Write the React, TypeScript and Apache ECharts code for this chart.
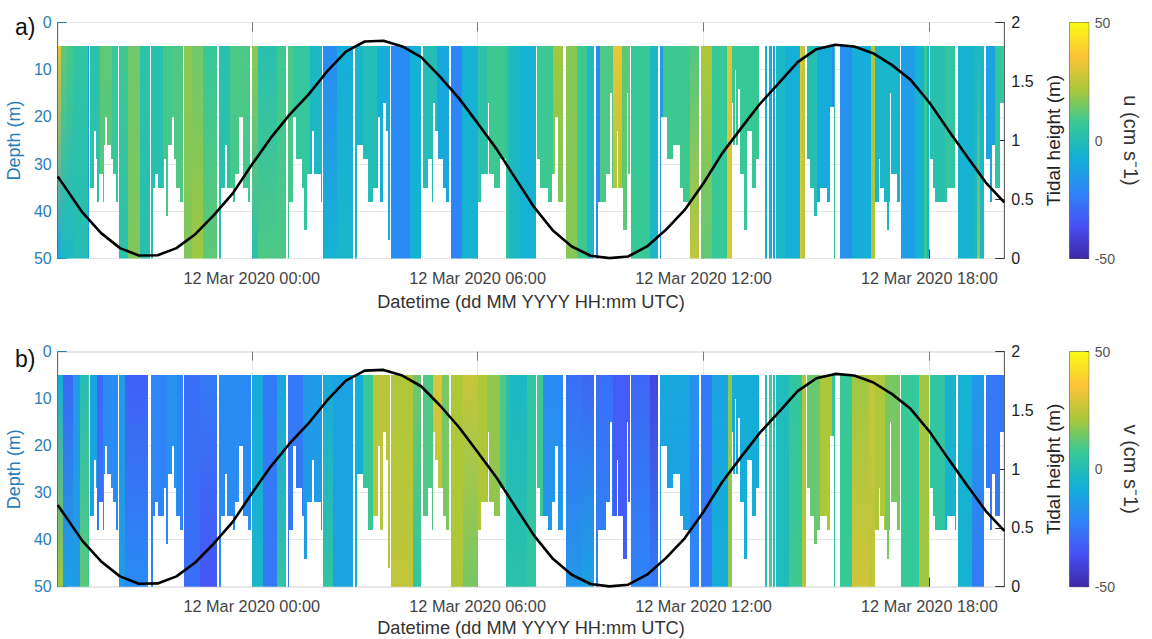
import React, { useEffect, useRef } from "react";
import * as echarts from "echarts";

// Time ticks (hours from 12 Mar 2020 00:00 UTC) and their labels
const tickHours = [0, 6, 12, 18];
const tickLabels = ["12 Mar 2020 00:00", "12 Mar 2020 06:00", "12 Mar 2020 12:00", "12 Mar 2020 18:00"];
const hourMin = -5.155;
const hourMax = 19.99;
// Ensemble numbering: ensemble 755 is midnight, about 113 ensembles an hour
const ensAtMidnight = 755;
const ensPerHour = 112.95;

// Tide (m), half hourly
const tideHours = [-5.155, -5, -4.5, -4, -3.5, -3, -2.5, -2, -1.5, -1, -0.5, 0, 0.5, 1, 1.5, 2, 2.5, 3, 3.5, 4, 4.5, 5, 5.5, 6, 6.5, 7, 7.5, 8, 8.5, 9, 9.5, 10, 10.5, 11, 11.5, 12, 12.5, 13, 13.5, 14, 14.5, 15, 15.5, 16, 16.5, 17, 17.5, 18, 18.5, 19, 19.5, 19.99];
const tideHeights = [0.695, 0.624, 0.39, 0.215, 0.088, 0.025, 0.028, 0.088, 0.206, 0.37, 0.554, 0.794, 1.02, 1.217, 1.387, 1.585, 1.754, 1.839, 1.845, 1.797, 1.706, 1.542, 1.359, 1.147, 0.929, 0.681, 0.435, 0.237, 0.102, 0.023, 0.003, 0.017, 0.102, 0.243, 0.412, 0.638, 0.893, 1.105, 1.311, 1.486, 1.664, 1.774, 1.811, 1.797, 1.74, 1.641, 1.514, 1.322, 1.09, 0.864, 0.644, 0.475];

// Deepest valid bin per ensemble run [first, last, depth m]; anything unlisted reaches 50 m
const validDepth: number[][] = [
  [268,283,35],[283,287,23],[287,292,29],[292,297,38],[297,308,32],[308,312,38],[312,316,26],[316,320,20],[320,333,26],[333,338,29],[338,348,32],[348,356,38],
  [458,464,35],[464,475,32],[475,492,35],[492,498,29],[498,505,41],[505,515,26],[515,521,20],[521,527,29],[527,540,35],[540,550,38],
  [663,675,35],[675,680,26],[680,700,35],[700,705,38],[705,718,32],[718,728,20],[728,745,35],[745,755,38],
  [868,880,38],[880,887,20],[887,905,29],[905,912,35],[912,920,44],[920,935,32],[935,941,23],[941,962,32],[962,967,38],
  [1072,1090,26],[1090,1103,29],[1103,1120,38],[1120,1135,35],[1135,1140,20],[1140,1150,38],[1150,1157,17],[1157,1165,23],[1165,1172,46],
  [1268,1285,35],[1285,1295,29],[1295,1300,38],[1300,1305,17],[1305,1315,23],[1315,1328,29],[1328,1338,35],[1338,1350,38],
  [1435,1443,38],[1443,1462,32],[1462,1468,17],[1468,1483,32],[1483,1500,35],[1500,1517,29],
  [1608,1620,29],[1620,1645,35],[1645,1655,38],[1655,1665,32],[1665,1675,20],[1675,1690,38],
  [1795,1812,38],[1812,1818,38],[1818,1830,32],[1830,1836,15],[1836,1850,35],[1850,1855,23],[1855,1870,35],[1870,1880,44],[1880,1884,15],[1884,1890,32],
  [1983,2000,20],[2000,2020,29],[2020,2040,26],[2040,2050,35],[2050,2070,38],
  [2195,2200,17],[2200,2204,26],[2204,2208,10],[2208,2214,26],[2214,2220,14],[2220,2232,32],[2232,2240,44],[2240,2255,23],[2255,2268,35],[2268,2276,29],
  [2421,2431,29],[2431,2441,35],[2441,2451,41],[2451,2461,38],[2461,2481,35],[2481,2491,38],[2491,2501,18],
  [2624,2636,38],[2636,2641,29],[2641,2651,35],[2651,2661,38],[2661,2666,44],[2666,2670,38],[2670,2674,15],[2674,2691,32],[2691,2701,38],
  [2791,2800,29],[2800,2806,35],[2806,2841,38],[2841,2866,35],[2866,2873,38],
  [2959,2971,29],[2971,2976,38],[2976,2986,26],[2986,3001,35],[3001,3013,17],
];

// Velocity runs [first ensemble, last ensemble, value at 5 m, value at 50 m] (cm/s)
const uBands: number[][] = [
  [173,183,30,-10],[183,200,12,-3],[200,220,9,-3],[220,263,5,0],[263,266,-15,-15],
  [270,300,3,3],[300,335,12,10],[335,353,7,7],
  [358,385,8,2],[385,420,14,16],[420,450,3,1],
  [453,490,2,2],[490,520,9,9],[520,548,10,10],
  [552,575,18,16],[575,610,14,20],[610,652,7,12],
  [656,690,2,2],[690,750,10,8],
  [755,775,18,2],[775,830,2,10],[830,857,8,10],
  [863,880,10,8],[880,930,6,6],[930,965,-3,-3],
  [968,1010,-20,-6],[1010,1060,-8,-4],
  [1065,1090,-4,-4],[1090,1130,0,0],[1130,1170,-8,-8],
  [1173,1230,-20,-20],[1230,1262,-7,-7],
  [1270,1310,0,0],[1310,1348,-10,-10],
  [1352,1385,-22,-22],[1385,1433,-6,-6],
  [1435,1460,3,3],[1460,1517,8,8],[1519,1526,4,4],
  [1528,1560,-3,-3],[1560,1608,-6,-6],
  [1610,1660,8,8],[1660,1690,20,15],
  [1697,1730,17,17],[1730,1760,8,8],[1760,1783,-2,-2],
  [1787,1800,-20,-20],[1800,1840,10,10],[1840,1865,33,16],[1865,1890,12,12],
  [1893,1950,7,7],[1950,1975,-3,-3],
  [1980,1990,-15,-15],[1990,2070,8,8],
  [2070,2097,10,25],[2103,2135,22,12],[2135,2180,7,7],[2180,2195,30,30],
  [2197,2276,7,7],
  [2296,2301,-8,-8],[2306,2316,-8,-8],[2318,2324,-12,-12],
  [2328,2356,-3,-3],[2356,2401,-7,-7],[2401,2406,30,30],[2406,2416,25,25],
  [2421,2451,1,1],[2451,2496,-9,-9],[2496,2501,-20,-20],[2501,2506,5,5],
  [2521,2556,-18,-18],[2556,2614,-8,-8],[2614,2624,22,22],
  [2624,2701,-4,-4],
  [2703,2746,-14,-14],[2746,2771,-5,-5],[2771,2781,7,7],[2781,2786,-5,-5],
  [2791,2836,2,2],[2836,2866,5,5],
  [2873,2921,-6,-6],[2921,2931,-3,-3],[2931,2941,-3,18],[2941,2953,-3,-3],
  [2959,2986,-12,-12],[2986,3013,6,4],
];
const vBands: number[][] = [
  [173,190,-8,20],[190,220,-30,-12],[220,240,-15,-15],[240,263,0,12],[263,267,8,8],
  [270,290,-12,-12],[290,310,-30,-25],[310,353,-20,-20],
  [358,375,-15,-15],[375,445,-32,-20],
  [453,500,-22,-22],[500,530,-18,-18],[530,548,-22,-22],
  [552,600,-28,-28],[600,652,-25,-35],
  [656,752,-20,-20],
  [755,790,-10,-4],[790,830,-25,-25],[830,857,-12,5],
  [863,910,-25,-25],[910,965,-15,-15],
  [968,1000,-10,5],[1000,1060,-12,-12],
  [1065,1090,-8,-8],[1090,1120,7,7],[1120,1170,24,24],
  [1173,1240,22,25],[1240,1262,14,5],
  [1270,1300,10,10],[1300,1325,30,20],[1325,1348,15,15],
  [1352,1390,22,22],[1390,1433,26,15],
  [1435,1460,22,22],[1460,1500,18,18],[1500,1517,10,10],[1519,1526,2,2],
  [1528,1580,-3,3],[1580,1608,5,5],
  [1610,1630,8,8],[1630,1690,-20,-14],
  [1697,1745,-28,-16],[1745,1783,-30,-12],
  [1787,1840,-28,-22],[1840,1890,-33,-33],
  [1893,1950,-30,-22],[1950,1975,-40,-25],
  [1980,2070,-10,-15],[2070,2097,-18,-22],
  [2103,2135,-25,-25],[2135,2185,-12,-8],[2185,2195,18,18],
  [2197,2276,-8,-8],
  [2296,2301,0,0],[2306,2316,10,10],[2318,2324,0,0],
  [2328,2366,-1,-1],[2366,2406,5,8],[2406,2418,22,22],
  [2421,2461,13,13],[2461,2496,22,22],[2496,2506,5,5],
  [2521,2556,7,7],[2556,2606,20,28],[2606,2624,25,25],
  [2624,2656,22,22],[2656,2701,15,15],
  [2703,2756,7,7],[2756,2786,20,20],
  [2791,2836,5,5],[2836,2868,-5,-5],
  [2873,2916,-6,-6],[2916,2953,-15,-25],
  [2959,3013,-25,-25],
];

const parula = ["#3e26a8", "#4752f4", "#2d87f7", "#12b1d6", "#37c897", "#abc739", "#fec338", "#f9fb14"];
const firstBin = 5;
const lastBin = 50;

const toHours = (e: number) => (e - ensAtMidnight) / ensPerHour;
const hexRgb = (h: string) => [1, 3, 5].map((i) => parseInt(h.slice(i, i + 2), 16));
function colorOf(v: number) {
  const p = Math.max(0, Math.min(0.9999, (v + 50) / 100)) * (parula.length - 1);
  const i = Math.floor(p);
  const f = p - i;
  const a = hexRgb(parula[i]);
  const b = hexRgb(parula[i + 1]);
  return `rgb(${a.map((c, k) => Math.round(c + (b[k] - c) * f)).join(",")})`;
}

// Cut each velocity run at the valid-depth runs: [t0, t1, depth0, depth1, v0, v1]
function buildCells(bands: number[][]) {
  const out: number[][] = [];
  for (const [s, e, top, bot] of bands) {
    const cuts = new Set<number>([s, e]);
    for (const [a, b] of validDepth) {
      if (a > s && a < e) cuts.add(a);
      if (b > s && b < e) cuts.add(b);
    }
    const xs = [...cuts].sort((p, q) => p - q);
    for (let i = 0; i < xs.length - 1; i++) {
      const mid = (xs[i] + xs[i + 1]) / 2;
      const run = validDepth.find((r) => mid >= r[0] && mid < r[1]);
      const depth = run ? run[2] : lastBin;
      const vEnd = top + ((bot - top) * (depth - firstBin)) / (lastBin - firstBin);
      out.push([toHours(xs[i]), toHours(xs[i + 1]), firstBin, depth, top, vEnd]);
    }
  }
  return out;
}

const renderCell = (_: any, api: any) => {
  const p0 = api.coord([api.value(0), api.value(2)]);
  const p1 = api.coord([api.value(1), api.value(3)]);
  const x0 = Math.round(p0[0]);
  const x1 = Math.round(p1[0]);
  const y0 = Math.round(p0[1]);
  const y1 = Math.round(p1[1]);
  return {
    type: "rect",
    shape: { x: x0, y: y0, width: Math.max(1, x1 - x0), height: y1 - y0 },
    style: {
      fill: new echarts.graphic.LinearGradient(0, 0, 0, 1, [
        { offset: 0, color: colorOf(api.value(4)) },
        { offset: 1, color: colorOf(api.value(5)) },
      ]),
    },
  };
};

const renderBar = (_: any, api: any) => {
  const p0 = api.coord([0, api.value(1)]);
  const p1 = api.coord([1, api.value(0)]);
  return {
    type: "rect",
    shape: { x: p0[0], y: p0[1], width: p1[0] - p0[0], height: p1[1] - p0[1] },
    style: {
      fill: new echarts.graphic.LinearGradient(
        0, 1, 0, 0,
        parula.map((c, i) => ({ offset: i / (parula.length - 1), color: c }))
      ),
    },
  };
};

const FONT = "'Liberation Sans', Arial, sans-serif";
const BLUE = "#2a7db8";
const PLOT_LEFT = 57.7;
const PLOT_W = 946.6;
const BAR_LEFT = 1069.7;
const BAR_W = 19;

function panelOption(top: number, height: number, idx: number, bands: number[][], barName: string, titleGap: number) {
  const xBase = idx * 3;
  const yBase = idx * 3;
  const gridBase = idx * 2;
  const grid = [
    { left: PLOT_LEFT, top, width: PLOT_W, height, show: true, borderColor: "#7f7f7f", borderWidth: 1, backgroundColor: "#fff", outerBoundsMode: "none" },
    { left: BAR_LEFT, top, width: BAR_W, height, show: true, borderColor: "#555", borderWidth: 1, outerBoundsMode: "none" },
  ];
  const xAxis = [
    {
      gridIndex: gridBase, type: "value", position: "bottom", min: hourMin, max: hourMax,
      axisLine: { show: false, onZero: false },
      axisTick: { show: true, inside: true, length: 9, customValues: tickHours, lineStyle: { color: "#333" } },
      axisLabel: {
        customValues: tickHours, margin: 11, fontSize: 16.3, fontFamily: FONT, color: "#444",
        formatter: (v: number) => tickLabels[tickHours.indexOf(v)] ?? "",
      },
      splitLine: { show: true, customValues: tickHours, lineStyle: { color: "#e6e8e8", width: 1 } },
      name: "Datetime (dd MM YYYY HH:mm UTC)", nameLocation: "middle", nameGap: titleGap,
      nameTextStyle: { fontSize: 18.2, fontFamily: FONT, color: "#333" },
    },
    {
      gridIndex: gridBase, type: "value", position: "top", min: hourMin, max: hourMax,
      axisLine: { show: false, onZero: false },
      axisTick: { show: true, inside: true, length: 9, customValues: tickHours, lineStyle: { color: "#777" } },
      axisLabel: { show: false },
      splitLine: { show: false },
    },
    { gridIndex: gridBase + 1, type: "value", min: 0, max: 1, show: false, axisLine: { onZero: false } },
  ];
  const yAxis = [
    {
      gridIndex: gridBase, type: "value", inverse: true, min: 0, max: 50, interval: 10, position: "left",
      axisLine: { show: true, onZero: false, lineStyle: { color: BLUE } },
      axisTick: { show: true, inside: true, length: 9, lineStyle: { color: BLUE } },
      axisLabel: { margin: 6, fontSize: 16, fontFamily: FONT, color: BLUE },
      splitLine: { show: true, lineStyle: { color: "#e6e8e8", width: 1 } },
      name: "Depth (m)", nameLocation: "middle", nameGap: 29, nameRotate: 90,
      nameTextStyle: { fontSize: 18, fontFamily: FONT, color: BLUE },
    },
    {
      gridIndex: gridBase, type: "value", min: 0, max: 2, interval: 0.5, position: "right",
      axisLine: { show: true, onZero: false, lineStyle: { color: "#666" } },
      axisTick: { show: true, inside: true, length: 9, lineStyle: { color: "#333" } },
      axisLabel: { margin: 7, fontSize: 16, fontFamily: FONT, color: "#222" },
      splitLine: { show: false },
      name: "Tidal height (m)", nameLocation: "middle", nameGap: 34, nameRotate: 90,
      nameTextStyle: { fontSize: 19, fontFamily: FONT, color: "#222" },
    },
    {
      gridIndex: gridBase + 1, type: "value", min: -50, max: 50, interval: 50, position: "right",
      axisLine: { show: false, onZero: false },
      axisTick: { show: true, inside: true, length: 3, lineStyle: { color: "#333" } },
      axisLabel: { margin: 6, fontSize: 14, fontFamily: FONT, color: "#555" },
      splitLine: { show: false },
      name: barName, nameLocation: "middle", nameGap: 32, nameRotate: -90,
      nameTextStyle: { fontSize: 20, fontFamily: FONT, color: "#333" },
    },
  ];
  const series = [
    {
      type: "custom", xAxisIndex: xBase, yAxisIndex: yBase, renderItem: renderCell, clip: true, z: 2,
      data: buildCells(bands), encode: { x: [0, 1], y: [2, 3] }, silent: true,
    },
    {
      type: "line", xAxisIndex: xBase, yAxisIndex: yBase + 1, showSymbol: false, z: 5, silent: true,
      lineStyle: { color: "#000", width: 2.6 }, itemStyle: { color: "#000" },
      data: tideHours.map((h, i) => [h, tideHeights[i]]),
    },
    {
      type: "custom", xAxisIndex: xBase + 2, yAxisIndex: yBase + 2, renderItem: renderBar, silent: true, z: 2,
      data: [[-50, 50]], encode: { y: [0, 1] },
    },
  ];
  return { grid, xAxis, yAxis, series };
}

export default function App() {
  const ref = useRef<HTMLDivElement>(null);
  useEffect(() => {
    const chart = echarts.init(ref.current!, undefined, { renderer: "svg" });
    const a = panelOption(22.5, 236, 0, uBands, "u (cm s\u207B1)", 34);
    const b = panelOption(351.7, 235, 1, vBands, "v (cm s\u207B1)", 32);
    chart.setOption({
      animation: false,
      backgroundColor: "#fff",
      grid: [...a.grid, ...b.grid],
      xAxis: [...a.xAxis, ...b.xAxis],
      yAxis: [...a.yAxis, ...b.yAxis],
      series: [...a.series, ...b.series],
      graphic: [
        { type: "text", left: 15, top: 15, style: { text: "a)", fontSize: 23, fontFamily: FONT, fill: "#111" } },
        { type: "text", left: 15, top: 347, style: { text: "b)", fontSize: 23, fontFamily: FONT, fill: "#111" } },
      ],
    });
    return () => chart.dispose();
  }, []);
  return <div ref={ref} style={{ position: "absolute", left: 0, top: 0, width: 1152, height: 639 }} />;
}
